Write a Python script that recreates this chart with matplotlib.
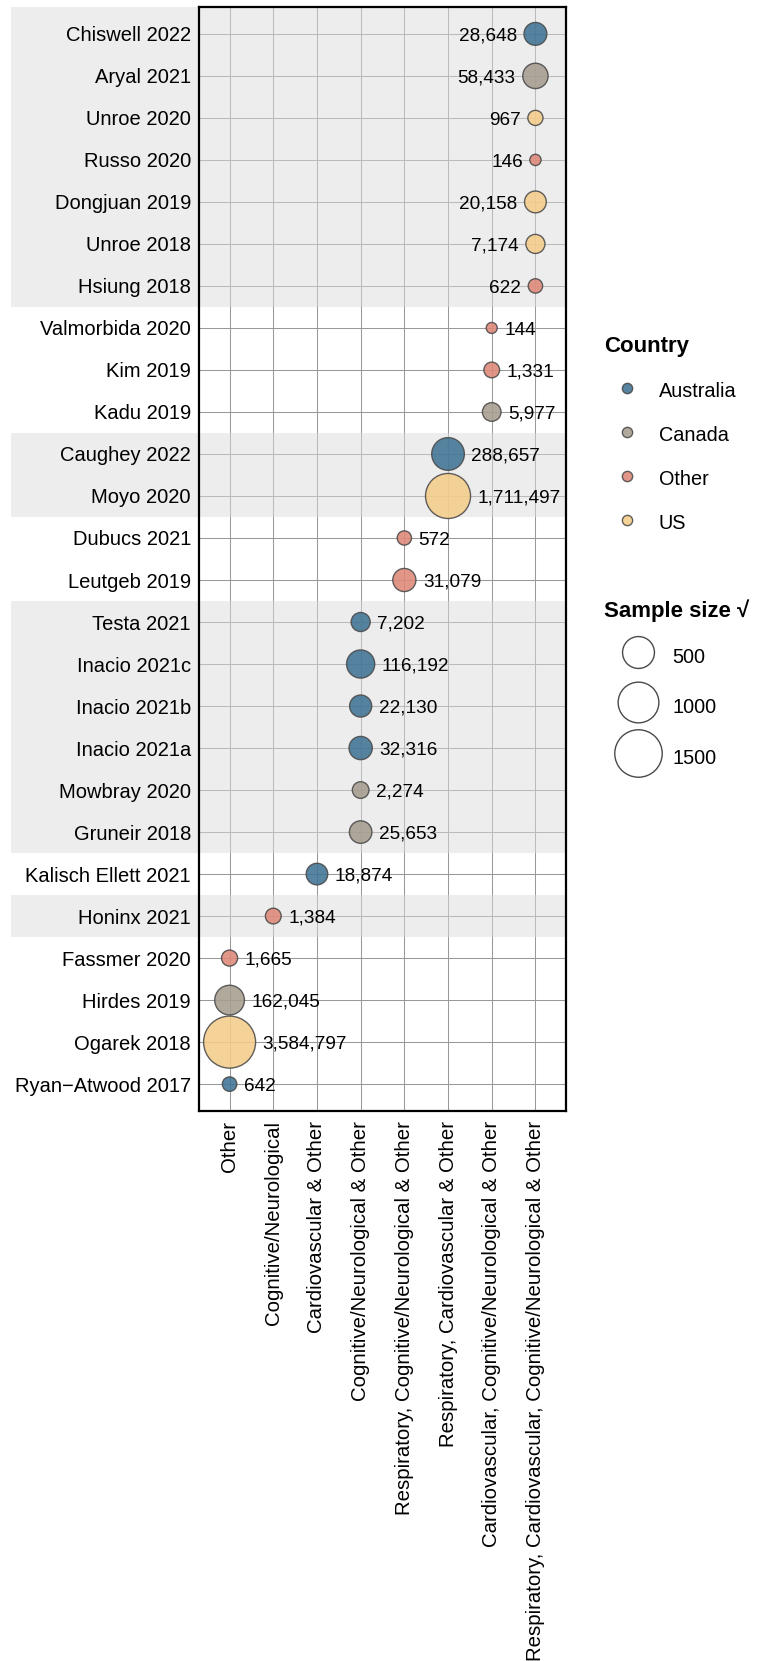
import numpy as np
import matplotlib.pyplot as plt
import matplotlib.transforms as mtransforms
from matplotlib.lines import Line2D
from matplotlib.patches import Rectangle

plt.rcParams['font.family'] = ['Liberation Sans', 'DejaVu Sans']

# condition categories (x axis, left to right)
OTH = "Other"
COG = "Cognitive/Neurological"
CAO = "Cardiovascular & Other"
CGO = "Cognitive/Neurological & Other"
RCG = "Respiratory, Cognitive/Neurological & Other"
RCA = "Respiratory, Cardiovascular & Other"
CCG = "Cardiovascular, Cognitive/Neurological & Other"
ALL = "Respiratory, Cardiovascular, Cognitive/Neurological & Other"
condition_levels = [OTH, COG, CAO, CGO, RCG, RCA, CCG, ALL]

# studies, top to bottom
studies = ["Chiswell 2022", "Aryal 2021", "Unroe 2020", "Russo 2020", "Dongjuan 2019",
           "Unroe 2018", "Hsiung 2018", "Valmorbida 2020", "Kim 2019", "Kadu 2019",
           "Caughey 2022", "Moyo 2020", "Dubucs 2021", "Leutgeb 2019", "Testa 2021",
           "Inacio 2021c", "Inacio 2021b", "Inacio 2021a", "Mowbray 2020", "Gruneir 2018",
           "Kalisch Ellett 2021", "Honinx 2021", "Fassmer 2020", "Hirdes 2019",
           "Ogarek 2018", "Ryan\u2212Atwood 2017"]
conditions = [ALL, ALL, ALL, ALL, ALL, ALL, ALL, CCG, CCG, CCG, RCA, RCA, RCG, RCG,
              CGO, CGO, CGO, CGO, CGO, CGO, CAO, COG, OTH, OTH, OTH, OTH]
countries = ["Australia", "Canada", "US", "Other", "US", "US", "Other", "Other", "Other",
             "Canada", "Australia", "US", "Other", "Other", "Australia", "Australia",
             "Australia", "Australia", "Canada", "Canada", "Australia", "Other", "Other",
             "Canada", "US", "Australia"]
sample_sizes = [28648, 58433, 967, 146, 20158, 7174, 622, 144, 1331, 5977, 288657,
                1711497, 572, 31079, 7202, 116192, 22130, 32316, 2274, 25653, 18874,
                1384, 1665, 162045, 3584797, 642]

country_levels = ["Australia", "Canada", "Other", "US"]
country_colors = {"Australia": "#3f7394", "Canada": "#a69d8f",
                  "Other": "#df8878", "US": "#f4cd8a"}
size_breaks = [500, 1000, 1500]

DPI = 100
D_MIN, D_MAX = 11.0, 52.0  # bubble diameters in px
sq = np.sqrt(np.array(sample_sizes, dtype=float))
s_lo, s_hi = sq.min(), sq.max()


def diam_px(s):
    # area-style size scale on sqrt(sample size)
    return D_MIN + (D_MAX - D_MIN) * np.sqrt((s - s_lo) / (s_hi - s_lo))


fig = plt.figure(figsize=(7.76, 16.61), dpi=DPI)
W, H = 776, 1661
ax = fig.add_axes([199 / W, 550 / H, (566 - 199) / W, (1111 - 7) / H])

n = len(studies)
ypos = np.arange(n)[::-1]
xpos = np.array([condition_levels.index(c) for c in conditions])
ylim = (-0.64, n - 1 + 0.64)
ax.set_xlim(-0.7, len(condition_levels) - 1 + 0.7)
ax.set_ylim(*ylim)

# grid
for xv in range(len(condition_levels)):
    ax.axvline(xv, color="#999999", lw=0.75, zorder=0.6)
for yv in ypos:
    ax.axhline(yv, color="#999999", lw=0.75, zorder=0.6)

# shaded bands for alternate condition groups
trans = mtransforms.blended_transform_factory(ax.transAxes, ax.transData)
x0 = (11 - 199) / (566 - 199)
for y, xi in zip(ypos, xpos):
    if xi % 2 == 1:
        lo = y - 0.5 if y > 0 else ylim[0]
        hi = y + 0.5 if y < n - 1 else ylim[1]
        ax.add_patch(Rectangle((x0, lo), 1 - x0, hi - lo, transform=trans,
                               facecolor="#dcdcdc", alpha=0.5, edgecolor="none",
                               clip_on=False, zorder=1))

# bubbles
d = diam_px(sq)
d_pt = d * 72 / DPI
ax.scatter(xpos, ypos, s=d_pt ** 2, c=[country_colors[c] for c in countries],
           alpha=0.88, edgecolors="#4a4a4a", linewidths=1.0, zorder=3)

last = len(condition_levels) - 1
lab_fs = 13.7
dy = -0.36 * lab_fs  # put the digits' middle on the row line
for x, y, dp, ns in zip(xpos, ypos, d_pt, sample_sizes):
    off = dp / 2 + 5
    if x == last:
        ax.annotate(f"{ns:,}", (x, y), xytext=(-off, dy), textcoords="offset points",
                    ha="right", va="baseline", fontsize=lab_fs, zorder=4)
    else:
        ax.annotate(f"{ns:,}", (x, y), xytext=(off, dy), textcoords="offset points",
                    ha="left", va="baseline", fontsize=lab_fs, zorder=4)

ax.set_yticks(ypos)
ax.set_yticklabels(studies, fontsize=14.5)
ax.set_xticks(range(len(condition_levels)))
ax.set_xticklabels(condition_levels, rotation=90, fontsize=14.7, ha="center", va="top")
ax.tick_params(axis="y", length=0, pad=5.8)
ax.tick_params(axis="x", length=0, pad=7.2)
for sp in ax.spines.values():
    sp.set_linewidth(1.6)
    sp.set_color("black")
    sp.set_zorder(5)

# legends
fs = 14.3
country_handles = [Line2D([], [], linestyle="none", marker="o", markersize=7.4,
                          markerfacecolor=country_colors[c], markeredgecolor="#4a4a4a",
                          markeredgewidth=1.0, alpha=0.88) for c in country_levels]
fig.legend(country_handles, country_levels, title="Country", loc="upper left",
           bbox_to_anchor=(604 / W, 1 - 336 / H), frameon=False, borderpad=0,
           borderaxespad=0, alignment="left", fontsize=fs,
           title_fontproperties={"weight": "bold", "size": 16},
           handlelength=2.31, handletextpad=0.45, labelspacing=1.13, handleheight=1.29)

size_handles = [Line2D([], [], linestyle="none", marker="o",
                       markersize=diam_px(b) * 72 / DPI, markerfacecolor="white",
                       markeredgecolor="#4a4a4a", markeredgewidth=1.0) for b in size_breaks]
fig.legend(size_handles, [str(b) for b in size_breaks], title="Sample size \u221a",
           loc="upper left", bbox_to_anchor=(604 / W, 1 - 599 / H), frameon=False,
           borderpad=0, borderaxespad=0, alignment="left", fontsize=fs,
           title_fontproperties={"weight": "bold", "size": 16},
           handlelength=3.44, handletextpad=0.02, labelspacing=0.95, handleheight=2.09)

fig.savefig("out.png", dpi=DPI)
